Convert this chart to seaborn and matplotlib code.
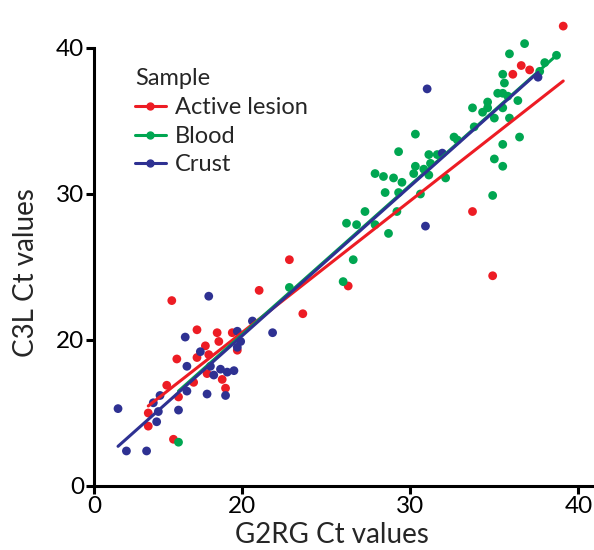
import numpy as np
import pandas as pd
import matplotlib
matplotlib.use("Agg")
import matplotlib.pyplot as plt
from matplotlib.lines import Line2D
import seaborn as sns

# G2RG (x) vs C3L (y) Ct values
lesion_x = [39.1, 36.6, 37.1, 36.1, 33.7, 34.9, 22.8, 21.0, 26.3, 23.6, 15.8, 17.3,
            18.5, 19.4, 18.6, 17.8, 18.0, 17.3, 16.1, 19.7, 17.9, 17.1, 18.8, 19.0,
            15.5, 16.2, 14.4, 14.4, 15.9]
lesion_y = [41.5, 38.8, 38.5, 38.2, 28.8, 24.4, 25.5, 23.4, 23.7, 21.8, 22.7, 20.7,
            20.5, 20.5, 19.9, 19.6, 19.0, 18.8, 18.7, 19.3, 17.7, 17.1, 17.3, 16.7,
            16.9, 16.1, 15.0, 14.1, 13.2]

blood_x = [36.8, 35.9, 38.7, 38.0, 37.7, 35.5, 35.6, 35.2, 35.5, 35.8, 36.4, 34.6,
           33.7, 34.3, 34.6, 35.0, 35.5, 35.9, 33.8, 30.3, 32.6, 32.8, 36.5, 35.5,
           29.3, 31.1, 31.6, 35.0, 31.2, 30.3, 30.8, 35.5, 28.4, 29.0, 30.2, 31.1,
           29.5, 32.1, 28.5, 29.3, 30.6, 34.9, 27.9, 27.3, 29.2, 26.2, 26.8, 27.9,
           28.7, 26.6, 26.0, 22.8, 16.2]
blood_y = [40.3, 39.6, 39.5, 39.0, 38.4, 38.2, 37.6, 36.9, 36.9, 36.7, 36.4, 36.3,
           35.9, 35.6, 35.9, 35.2, 35.9, 35.2, 34.6, 34.1, 33.9, 33.7, 33.9, 33.4,
           32.9, 32.7, 32.7, 32.4, 32.1, 31.9, 31.7, 31.9, 31.2, 31.1, 31.4, 31.3,
           30.8, 31.1, 30.1, 30.1, 30.0, 29.9, 31.4, 28.8, 28.8, 28.0, 27.9, 27.9,
           27.3, 25.5, 24.0, 23.6, 13.0]

crust_x = [31.0, 37.6, 31.9, 30.9, 18.0, 16.6, 19.7, 19.9, 19.7, 17.5, 16.7, 18.1,
           18.3, 18.7, 19.1, 19.5, 21.8, 20.6, 19.0, 17.9, 16.7, 15.1, 14.7, 15.0,
           14.9, 16.2, 12.6, 13.1, 14.3]
crust_y = [37.2, 38.0, 32.8, 27.8, 23.0, 20.2, 20.6, 19.9, 19.5, 19.2, 18.2, 18.2,
           17.6, 18.0, 17.8, 17.9, 20.5, 21.3, 16.2, 16.3, 16.5, 16.2, 15.7, 15.1,
           14.4, 15.2, 15.3, 12.4, 12.4]

samples = ["Active lesion", "Blood", "Crust"]
colors = ["#ED1C24", "#00A651", "#2E3192"]
tick_vals = [20, 30, 40]
tick_labels = ["0", "20", "30", "40"]

df = pd.concat([
    pd.DataFrame({"G2RG": lesion_x, "C3L": lesion_y, "Sample": samples[0]}),
    pd.DataFrame({"G2RG": blood_x, "C3L": blood_y, "Sample": samples[1]}),
    pd.DataFrame({"G2RG": crust_x, "C3L": crust_y, "Sample": samples[2]}),
])

sns.set_style("white")
plt.rcParams['font.family'] = ['Lato', 'DejaVu Sans']

fig = plt.figure(figsize=(5.94, 5.5), dpi=100)
ax = fig.add_axes([94 / 594, 64 / 550, 500 / 594, 486 / 550])

# axis starts are shown as "0" in the original (compressed origin)
x0, y0 = 11.17, 10.0
ax.set_xlim(x0, x0 + 500 / 16.8)
ax.set_ylim(y0, y0 + 486 / 14.6)

pal = dict(zip(samples, colors))
sns.scatterplot(data=df, x="G2RG", y="C3L", hue="Sample", palette=pal, s=40,
                edgecolor="none", legend=False, ax=ax, zorder=2)

# linear fits per sample
for name in samples:
    sub = df[df["Sample"] == name]
    sns.regplot(data=sub, x="G2RG", y="C3L", scatter=False, ci=None, truncate=True,
                color=pal[name], line_kws={"lw": 2.2, "zorder": 3}, ax=ax)

ax.set_xticks([x0] + tick_vals)
ax.set_xticklabels(tick_labels)
ax.set_yticks([y0] + tick_vals)
ax.set_yticklabels(tick_labels)
ax.tick_params(axis="both", direction="out", length=6, width=2.2, labelsize=17.5,
               colors="black", pad=1, bottom=True, left=True)

for side in ["top", "right"]:
    ax.spines[side].set_visible(False)
for side in ["left", "bottom"]:
    ax.spines[side].set_linewidth(2.2)
    ax.spines[side].set_color("black")
ax.spines["left"].set_bounds(y0, 40)

ax.set_xlabel("G2RG Ct values", fontsize=20)
ax.set_ylabel("C3L Ct values", fontsize=20)
ax.xaxis.set_label_coords(0.476, -0.075)
ax.yaxis.set_label_coords(-0.11, 0.44)

handles = [Line2D([0], [0], color=c, lw=2.2, marker="o", markersize=5) for c in colors]
leg = ax.legend(handles, samples, title="Sample", loc="upper left",
                bbox_to_anchor=(0.082, 0.86), frameon=False, fontsize=17,
                title_fontsize=17, handlelength=1.3, handletextpad=0.4,
                labelspacing=0.32, borderaxespad=0, borderpad=0)
leg._legend_box.align = "left"
leg._legend_box.sep = 6

fig.savefig("out.png", dpi=100)
